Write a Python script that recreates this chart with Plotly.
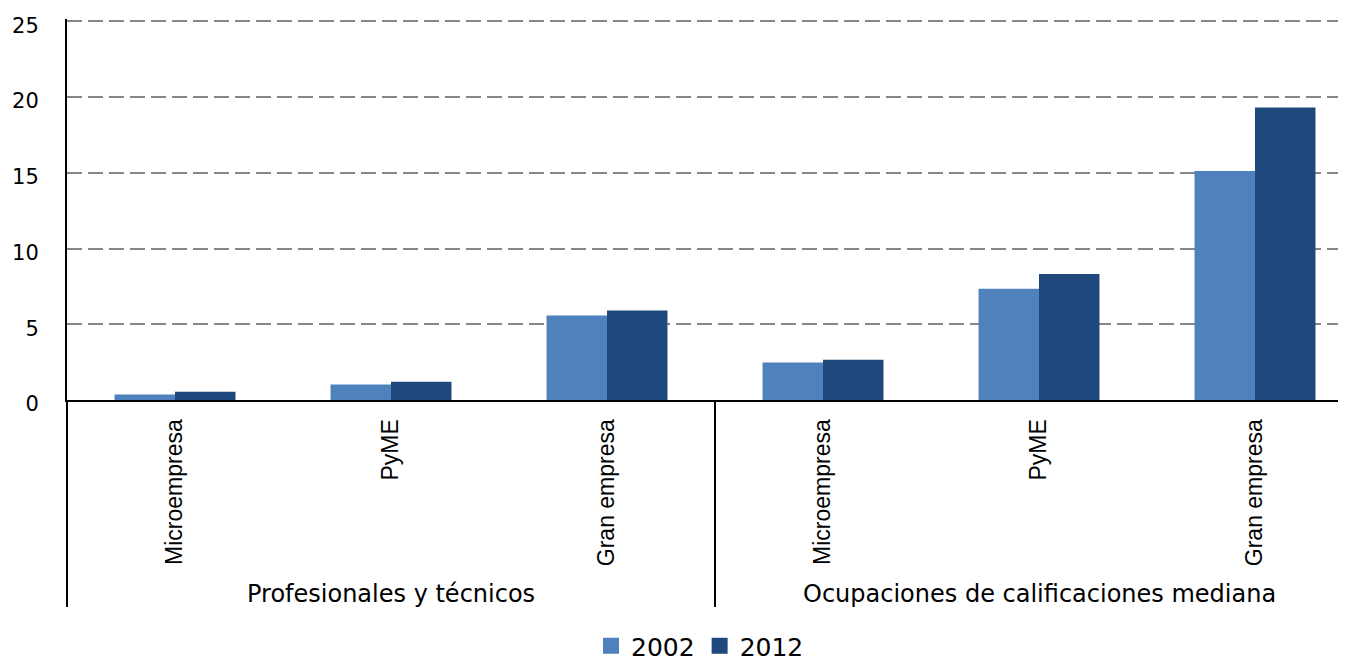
import plotly.graph_objects as go

categories = ["Microempresa", "PyME", "Gran empresa", "Microempresa", "PyME", "Gran empresa"]
groups = ["Profesionales y técnicos", "Ocupaciones de calificaciones mediana"]
series_names = ["2002", "2012"]
values_2002 = [0.36, 1.02, 5.57, 2.47, 7.35, 15.12]
values_2012 = [0.54, 1.2, 5.9, 2.65, 8.31, 19.31]
y_ticks = [0, 5, 10, 15, 20, 25]

colors = ["#4F81BD", "#1F497D"]
xpos = list(range(len(categories)))

# page body has an 8px margin: work in figure coordinates = screen - 8
OFF = 8
W, H = 1346 - OFF, 661 - OFF
left = 67 - OFF
zero_y = 400.5 - OFF
top25 = 21 - OFF
px_per_unit = (zero_y - top25) / 25.0
ymax = 25.15
top = zero_y - ymax * px_per_unit
band = 216.0
xmax = -0.5 + (W - left) / band

fig = go.Figure()
for name, vals, col in zip(series_names, [values_2002, values_2012], colors):
    fig.add_trace(go.Bar(x=xpos, y=vals, name=name, showlegend=False,
                         marker=dict(color=col, line=dict(width=0))))
# legend entries (square swatches)
for name, col in zip(series_names, colors):
    fig.add_trace(go.Scatter(x=[None], y=[None], mode="markers", name=name,
                             marker=dict(symbol="square", size=16, color=col, line=dict(width=0))))

fig.update_layout(
    width=W, height=H,
    margin=dict(l=left, r=0, t=top, b=H - zero_y, autoexpand=False),
    plot_bgcolor="white", paper_bgcolor="white",
    barmode="group", bargap=0.44, bargroupgap=0,
    font=dict(family="DejaVu Sans", color="black"),
    showlegend=True,
    legend=dict(orientation="h", xref="container", yref="container",
                x=(700 - OFF) / W, y=1 - (646 - OFF) / H, xanchor="center", yanchor="middle",
                font=dict(family="DejaVu Sans", size=25, color="black"),
                itemwidth=30, itemsizing="trace", tracegroupgap=0),
)

fig.update_xaxes(
    range=[-0.5, xmax],
    tickmode="array", tickvals=xpos, ticktext=categories,
    tickangle=-90, ticks="", showgrid=False, zeroline=False,
    showline=True, linecolor="black", linewidth=2,
    ticklabelstandoff=8,
    tickfont=dict(family="Liberation Sans", size=23, color="black"),
    automargin=False, fixedrange=True,
)
fig.update_yaxes(
    range=[0, ymax], tickmode="array", tickvals=y_ticks,
    showgrid=True, gridcolor="#878787", gridwidth=2, griddash="15px,6px",
    zeroline=False, showline=True, linecolor="black", linewidth=2,
    ticks="", ticklabelstandoff=22, ticklabelshift=4,
    tickfont=dict(family="DejaVu Sans", size=21, color="black"),
    automargin=False, fixedrange=True,
)

# extend y axis line and the group divider below the axis
ph = zero_y - top
ylow = -((608 - OFF) - zero_y) / ph
fig.add_shape(type="line", xref="paper", yref="paper", x0=0, x1=0, y0=0, y1=ylow,
              line=dict(color="black", width=2))
fig.add_shape(type="line", xref="x", yref="paper", x0=2.5, x1=2.5, y0=0, y1=ylow,
              line=dict(color="black", width=2))

# group labels
for i, g in enumerate(groups):
    fig.add_annotation(x=1 + 3 * i, xref="x", y=-((595 - OFF) - zero_y) / ph, yref="paper",
                       text=g, showarrow=False, xanchor="center", yanchor="middle",
                       font=dict(family="DejaVu Sans", size=24, color="black"))

fig.write_html("out.html")
